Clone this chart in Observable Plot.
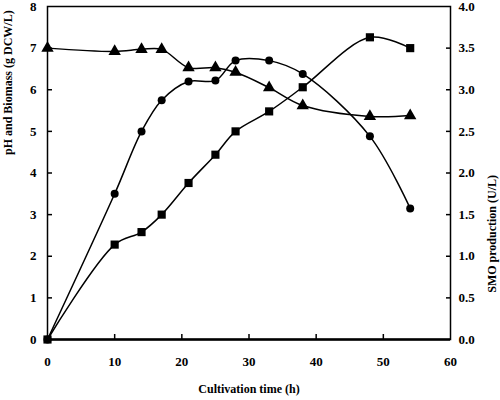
<!DOCTYPE html>
<html>
<head>
<meta charset="utf-8">
<script src="https://cdn.jsdelivr.net/npm/d3@7"></script>
<script src="https://cdn.jsdelivr.net/npm/@observablehq/plot@0.6"></script>
<style>
  html, body { margin: 0; padding: 0; background: #fff; }
</style>
</head>
<body>
<div id="chart"></div>
<script>
// Cultivation time (h)
const time = [0, 10, 14, 17, 21, 25, 28, 33, 38, 48, 54];
// pH (left axis)
const pH = [7.0, 6.92, 6.97, 6.97, 6.53, 6.53, 6.42, 6.05, 5.62, 5.36, 5.38];
// Biomass g DCW/L (left axis)
const biomass = [0, 3.5, 5.0, 5.75, 6.2, 6.22, 6.7, 6.7, 6.38, 4.88, 3.15];
// SMO production U/L (right axis)
const smo = [0, 1.14, 1.29, 1.5, 1.88, 2.22, 2.5, 2.74, 3.03, 3.63, 3.5];

const xTicks = [0, 10, 20, 30, 40, 50, 60];
const yLeftTicks = [0, 1, 2, 3, 4, 5, 6, 7, 8];
const yRightTicks = [0.0, 0.5, 1.0, 1.5, 2.0, 2.5, 3.0, 3.5, 4.0];

const leftMax = 8, rightMax = 4;
const k = leftMax / rightMax;

const data = time.map((t, i) => ({t, pH: pH[i], biomass: biomass[i], smo: smo[i]}));

const font = "'Liberation Serif', 'Times New Roman', serif";

const chart = Plot.plot({
  width: 500,
  height: 400,
  marginLeft: 47,
  marginRight: 50,
  marginTop: 6,
  marginBottom: 61,
  style: {fontFamily: font, fontSize: "13px", fontWeight: "bold", color: "#000", background: "#fff"},
  x: {domain: [0, 60]},
  y: {domain: [0, leftMax]},
  marks: [
    Plot.frame({stroke: "#000", strokeWidth: 1.5}),
    // inward ticks
    Plot.axisX({ticks: xTicks.filter(d => d > 0 && d < 60), tickSize: -5, tickFormat: () => "", label: null, strokeWidth: 1.5}),
    Plot.axisX({ticks: xTicks, tickSize: 0, tickPadding: 17, label: null, fontSize: 13}),
    Plot.axisY({ticks: yLeftTicks.filter(d => d > 0 && d < leftMax), tickSize: -5, tickFormat: () => "", label: null, strokeWidth: 1.5}),
    Plot.axisY({ticks: yLeftTicks, tickSize: 0, tickPadding: 11, label: null, fontSize: 13}),
    Plot.axisY({anchor: "right", ticks: yRightTicks.filter(d => d > 0 && d < rightMax).map(d => d * k), tickSize: -5, tickFormat: () => "", label: null, strokeWidth: 1.5}),
    Plot.axisY({anchor: "right", ticks: yRightTicks.map(d => d * k), tickSize: 0, tickPadding: 8, tickFormat: d => (d / k).toFixed(1), label: null, fontSize: 13}),
    Plot.ruleY([0], {stroke: "#000", strokeWidth: 2.5}),
    // series
    Plot.line(data, {x: "t", y: "pH", curve: "catmull-rom", stroke: "#000", strokeWidth: 1.5}),
    Plot.line(data, {x: "t", y: "biomass", curve: "catmull-rom", stroke: "#000", strokeWidth: 1.5}),
    Plot.line(data, {x: "t", y: d => d.smo * k, curve: "catmull-rom", stroke: "#000", strokeWidth: 1.5}),
    Plot.dot(data, {x: "t", y: "pH", symbol: "triangle", r: 4.6, fill: "#000"}),
    Plot.dot(data, {x: "t", y: "biomass", symbol: "circle", r: 4, fill: "#000"}),
    Plot.dot(data, {x: "t", y: d => d.smo * k, symbol: "square", r: 4.6, fill: "#000"}),
    // axis titles
    Plot.text(["Cultivation time (h)"], {frameAnchor: "bottom", dy: 53, text: d => d, fontSize: 12, fontWeight: "bold", fill: "#000"}),
    Plot.text(["pH and Biomass (g DCW/L)"], {frameAnchor: "left", dx: -39, dy: -18, rotate: -90, text: d => d, fontSize: 12, fontWeight: "bold", fill: "#000"}),
    Plot.text(["SMO production (U/L)"], {frameAnchor: "right", dx: 42, dy: 2, rotate: -90, text: d => d, fontSize: 12, fontWeight: "bold", fill: "#000"})
  ]
});

document.getElementById("chart").appendChild(chart);
</script>
</body>
</html>
